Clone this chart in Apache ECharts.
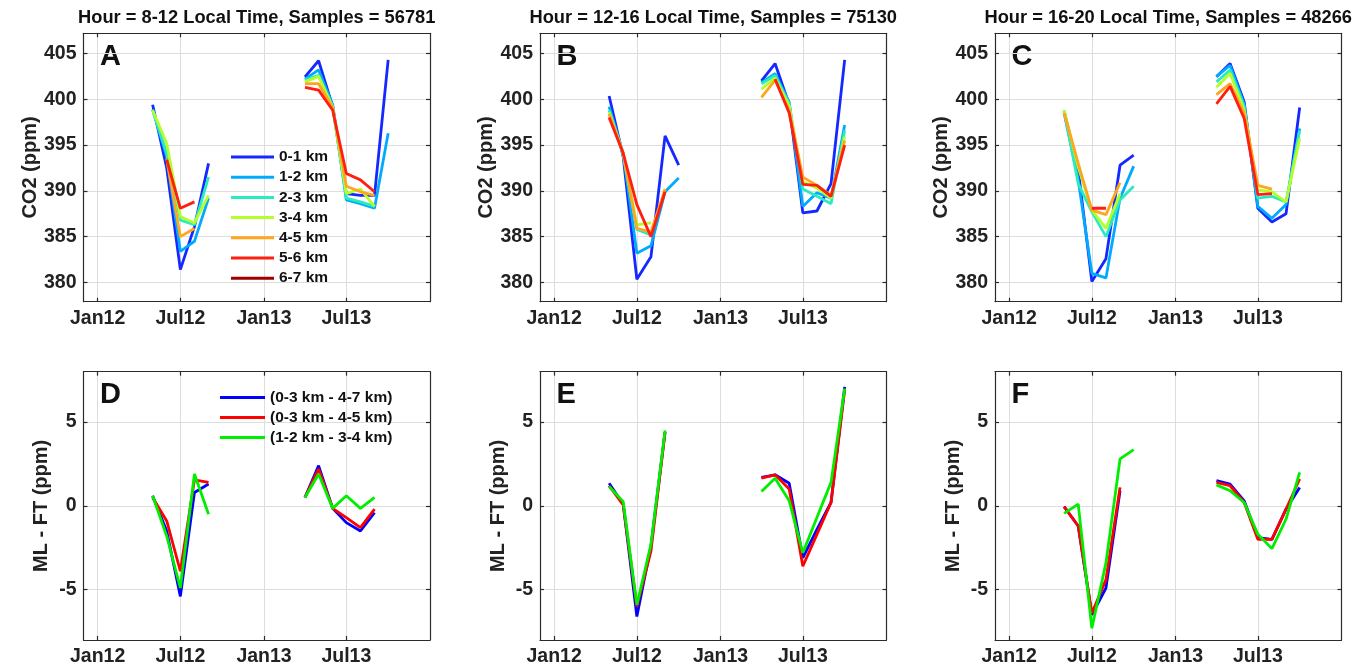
<!DOCTYPE html>
<html><head><meta charset="utf-8">
<script src="https://cdn.jsdelivr.net/npm/echarts@6/dist/echarts.min.js"></script>
<style>html,body{margin:0;padding:0;background:#fff}#c{width:1368px;height:667px}</style>
</head><body><div id="c"></div>
<script>
// ---------- data ----------
const MONTHS = ['2012-05','2012-06','2012-07','2012-08','2012-09','2012-10','2013-04','2013-05','2013-06','2013-07','2013-08','2013-09','2013-10'];
const X_TICKS = ['2012-01','2012-07','2013-01','2013-07'];
const X_TICK_LABELS = ['Jan12','Jul12','Jan13','Jul13'];
const X_RANGE = ['2011-12-01','2014-01-01'];
const CO2_TICKS = [380,385,390,395,400,405];
const CO2_RANGE = [377.9,407.2];
const DIFF_TICKS = [-5,0,5];
const DIFF_RANGE = [-8,8];
const TITLES = ['Hour = 8-12 Local Time, Samples = 56781','Hour = 12-16 Local Time, Samples = 75130','Hour = 16-20 Local Time, Samples = 48266'];
const PANEL_LETTERS = ['A','B','C','D','E','F'];
const LAYER_NAMES = ['0-1 km','1-2 km','2-3 km','3-4 km','4-5 km','5-6 km','6-7 km'];
const DIFF_NAMES = ['(0-3 km - 4-7 km)','(0-3 km - 4-5 km)','(1-2 km - 3-4 km)'];

// Panel A (8-12 LT)
const A_0_1 = [399.4,392.5,381.4,386.1,393.0,null,402.45,404.2,399.2,389.7,389.5,389.5,404.3];
const A_1_2 = [398.9,393.7,383.4,384.5,389.2,null,402.2,403.2,399.4,389.0,388.6,388.1,396.3];
const A_2_3 = [398.8,394.1,386.8,386.3,391.5,null,402.1,402.6,399.2,389.2,388.8,388.3,null];
const A_3_4 = [398.8,395.2,387.2,386.5,389.5,null,401.9,402.5,399.1,389.7,390.2,388.3,null];
const A_4_5 = [null,393.5,385.0,385.9,null,null,401.7,401.7,399.1,390.5,389.9,389.5,null];
const A_5_6 = [null,393.4,388.1,388.8,null,null,401.3,401.0,398.8,391.9,391.2,389.9,null];
const A_6_7 = [null,null,null,null,null,null,null,null,null,null,null,null,null];
// Panel B (12-16 LT)
const B_0_1 = [400.35,393.7,380.35,382.8,396.0,392.8,402.0,403.9,399.4,387.6,387.8,390.8,404.3];
const B_1_2 = [399.2,394.1,383.2,384.0,389.9,391.4,401.8,402.8,399.7,388.3,389.8,389.2,397.2];
const B_2_3 = [398.8,393.9,385.8,385.2,null,null,401.7,402.6,399.5,390.2,389.4,388.6,396.6];
const B_3_4 = [398.6,394.1,386.3,386.5,null,null,401.1,402.3,399.3,391.0,390.3,389.2,395.9];
const B_4_5 = [398.4,394.1,385.9,385.5,390.2,null,400.2,402.1,398.8,391.5,390.6,389.5,395.5];
const B_5_6 = [398.0,394.1,388.5,385.0,389.9,null,null,402.2,398.5,390.7,390.6,389.4,395.0];
const B_6_7 = [null,null,null,null,null,null,null,null,null,null,null,null,null];
// Panel C (16-20 LT)
const C_0_1 = [398.7,392.3,380.1,382.6,392.8,393.9,402.45,403.9,399.7,388.1,386.6,387.5,399.1];
const C_1_2 = [398.5,391.2,381.0,380.5,389.2,392.7,402.5,403.7,399.4,388.3,387.0,388.5,396.8];
const C_2_3 = [398.8,390.8,387.7,385.0,389.0,390.5,401.9,403.2,399.2,389.2,389.4,388.8,396.6];
const C_3_4 = [398.8,392.6,387.9,385.9,389.7,null,401.3,402.8,398.8,390.1,389.9,388.8,395.7];
const C_4_5 = [398.5,393.0,387.9,387.4,390.9,null,400.5,401.7,398.5,390.6,390.2,null,null];
const C_5_6 = [null,null,388.1,388.1,null,null,399.5,401.4,397.9,389.6,389.7,null,null];
const C_6_7 = [null,null,null,null,null,null,null,null,null,null,null,null,null];
// Panel D (ML - FT, 8-12 LT)
const D_03_47 = [0.6,-1.5,-5.4,0.8,1.3,null,0.5,2.4,-0.15,-1.0,-1.5,-0.4,null];
const D_03_45 = [0.5,-0.9,-3.9,1.55,1.4,null,0.5,2.2,-0.15,-0.7,-1.3,-0.2,null];
const D_12_34 = [0.6,-1.8,-4.9,1.9,-0.5,null,0.5,1.9,-0.15,0.6,-0.15,0.5,null];
// Panel E (12-16 LT)
const E_03_47 = [1.35,0.1,-6.6,-2.4,4.4,null,1.7,1.85,1.35,-3.1,-1.4,0.2,7.1];
const E_03_45 = [1.2,0.05,-6.0,-2.7,4.4,null,1.65,1.85,1.0,-3.6,-1.7,0.2,6.9];
const E_12_34 = [1.15,0.25,-5.9,-2.3,4.5,null,0.85,1.65,0.3,-2.8,-0.7,1.4,7.0];
// Panel F (16-20 LT)
const F_03_47 = [-0.05,-1.2,-6.5,-4.9,0.9,null,1.5,1.3,0.3,-1.9,-2.0,-0.2,1.1];
const F_03_45 = [-0.05,-1.2,-6.4,-4.4,1.1,null,1.4,1.2,0.2,-2.0,-2.0,-0.2,1.6];
const F_12_34 = [-0.45,0.1,-7.3,-3.4,2.8,3.35,1.25,0.9,0.2,-1.7,-2.55,-0.8,2.0];

// ---------- styling / layout ----------
const LAYER_COLORS = ['#1428ff','#00aaff','#2aebc0','#b4ff2a','#ffa51e','#ff1e10','#a00000'];
const DIFF_COLORS = ['#0000ff','#ff0000','#00ee00'];
const FONT = 'Liberation Sans, Arial, Helvetica, sans-serif';
const GRID_LEFTS = [83.5, 540, 995];
const GRID_W = 346.5;
const ROW_TOPS = [33.3, 371.7];
const GRID_H = 268.4;
const AXIS_COLOR = '#2b2b2b';

// x values are days since 1 Jan 2012 (a linear date scale)
const DAY = 86400000;
function toTime(s){ const p = s.split('-').map(Number); return Date.UTC(p[0], p[1]-1, p[2]||1); }
const EPOCH = toTime('2012-01-01');
function toDay(s){ return (toTime(s) - EPOCH) / DAY; }
function monthIndex(s){ const p = s.split('-').map(Number); return p[0]*12 + p[1]; }
function buildData(values){
  const out = [];
  for (let i = 0; i < MONTHS.length; i++){
    if (i > 0 && monthIndex(MONTHS[i]) - monthIndex(MONTHS[i-1]) > 1){
      out.push([(toDay(MONTHS[i-1]) + toDay(MONTHS[i]))/2, null]);
    }
    out.push([toDay(MONTHS[i]), values[i]]);
  }
  return out;
}
const xTickVals = X_TICKS.map(toDay);
function xLabel(v){
  let best = 0, bd = Infinity;
  xTickVals.forEach((t,i)=>{ const d = Math.abs(t - v); if (d < bd){ bd = d; best = i; } });
  return X_TICK_LABELS[best];
}

const PANELS = [
  {series:[A_0_1,A_1_2,A_2_3,A_3_4,A_4_5,A_5_6,A_6_7], names:LAYER_NAMES, colors:LAYER_COLORS, kind:'co2'},
  {series:[B_0_1,B_1_2,B_2_3,B_3_4,B_4_5,B_5_6,B_6_7], names:LAYER_NAMES, colors:LAYER_COLORS, kind:'co2'},
  {series:[C_0_1,C_1_2,C_2_3,C_3_4,C_4_5,C_5_6,C_6_7], names:LAYER_NAMES, colors:LAYER_COLORS, kind:'co2'},
  {series:[D_03_47,D_03_45,D_12_34], names:DIFF_NAMES, colors:DIFF_COLORS, kind:'diff'},
  {series:[E_03_47,E_03_45,E_12_34], names:DIFF_NAMES, colors:DIFF_COLORS, kind:'diff'},
  {series:[F_03_47,F_03_45,F_12_34], names:DIFF_NAMES, colors:DIFF_COLORS, kind:'diff'}
];

const grid = [], xAxis = [], yAxis = [], series = [], graphic = [];
const lineStyleAxis = {color: AXIS_COLOR, width: 1.2};
PANELS.forEach((P, p) => {
  const row = p < 3 ? 0 : 1, col = p % 3;
  const left = GRID_LEFTS[col], top = ROW_TOPS[row];
  grid.push({left: left, top: top, width: GRID_W, height: GRID_H, containLabel: false});
  const yr = P.kind === 'co2' ? CO2_RANGE : DIFF_RANGE;
  const yt = P.kind === 'co2' ? CO2_TICKS : DIFF_TICKS;
  const xMin = toDay(X_RANGE[0]), xMax = toDay(X_RANGE[1]);
  xAxis.push({
    gridIndex: p, type: 'value', min: xMin, max: xMax, position: 'bottom',
    axisLine: {show: true, onZero: false, lineStyle: lineStyleAxis},
    axisTick: {show: true, inside: true, length: 4, customValues: xTickVals, lineStyle: lineStyleAxis},
    axisLabel: {show: true, customValues: xTickVals, formatter: xLabel, fontSize: 19.5, fontWeight: 'bold', fontFamily: FONT, color: '#222', margin: 7},
    splitLine: {show: true, lineStyle: {color: '#dedede', width: 1}}
  });
  xAxis.push({
    gridIndex: p, type: 'value', min: xMin, max: xMax, position: 'top',
    axisLine: {show: true, onZero: false, lineStyle: lineStyleAxis},
    axisTick: {show: true, inside: true, length: 4, customValues: xTickVals, lineStyle: lineStyleAxis},
    axisLabel: {show: false}, splitLine: {show: false}
  });
  yAxis.push({
    gridIndex: p, type: 'value', min: yr[0], max: yr[1], position: 'left',
    name: P.kind === 'co2' ? 'CO2 (ppm)' : 'ML - FT (ppm)',
    nameLocation: 'middle', nameRotate: 90, nameGap: 32,
    nameTextStyle: {fontSize: 20, fontWeight: 'bold', fontFamily: FONT, color: '#222'},
    axisLine: {show: true, onZero: false, lineStyle: lineStyleAxis},
    axisTick: {show: true, inside: true, length: 4, customValues: yt, lineStyle: lineStyleAxis},
    axisLabel: {show: true, customValues: yt, fontSize: 19.5, fontWeight: 'bold', fontFamily: FONT, color: '#222', margin: 7},
    splitLine: {show: true, lineStyle: {color: '#dedede', width: 1}}
  });
  yAxis.push({
    gridIndex: p, type: 'value', min: yr[0], max: yr[1], position: 'right',
    axisLine: {show: true, onZero: false, lineStyle: lineStyleAxis},
    axisTick: {show: true, inside: true, length: 4, customValues: yt, lineStyle: lineStyleAxis},
    axisLabel: {show: false}, splitLine: {show: false}
  });
  P.series.forEach((vals, k) => {
    series.push({
      type: 'line', name: P.names[k], xAxisIndex: 2*p, yAxisIndex: 2*p,
      data: buildData(vals), showSymbol: false, symbol: 'none', connectNulls: false,
      color: P.colors[k], lineStyle: {color: P.colors[k], width: 2.8},
      emphasis: {disabled: true}, silent: true, animation: false
    });
  });
  graphic.push({type: 'text', x: left + 16.5, y: top + 23.7, silent: true,
    style: {text: PANEL_LETTERS[p], font: 'bold 29px ' + FONT, fill: '#111', textAlign: 'left', textVerticalAlign: 'middle'}});
  if (row === 0){
    graphic.push({type: 'text', x: left + GRID_W/2, y: 18, silent: true,
      style: {text: TITLES[col], font: 'bold 18.3px ' + FONT, fill: '#111', textAlign: 'center', textVerticalAlign: 'middle'}});
  }
});

const legend = [
  {data: LAYER_NAMES, orient: 'vertical', left: 226, top: 144, icon: 'rect', itemWidth: 43, itemHeight: 3, itemGap: 4.2,
   selectedMode: false, textStyle: {fontSize: 15.5, fontWeight: 'bold', fontFamily: FONT, color: '#111', lineHeight: 16}},
  {data: DIFF_NAMES, orient: 'vertical', left: 215, top: 384.5, icon: 'rect', itemWidth: 45, itemHeight: 3, itemGap: 4,
   selectedMode: false, textStyle: {fontSize: 15.5, fontWeight: 'bold', fontFamily: FONT, color: '#111', lineHeight: 16}}
];

const chart = echarts.init(document.getElementById('c'), null, {renderer: 'canvas'});
chart.setOption({backgroundColor: '#fff', animation: false, grid, xAxis, yAxis, series, legend, graphic});
</script></body></html>
